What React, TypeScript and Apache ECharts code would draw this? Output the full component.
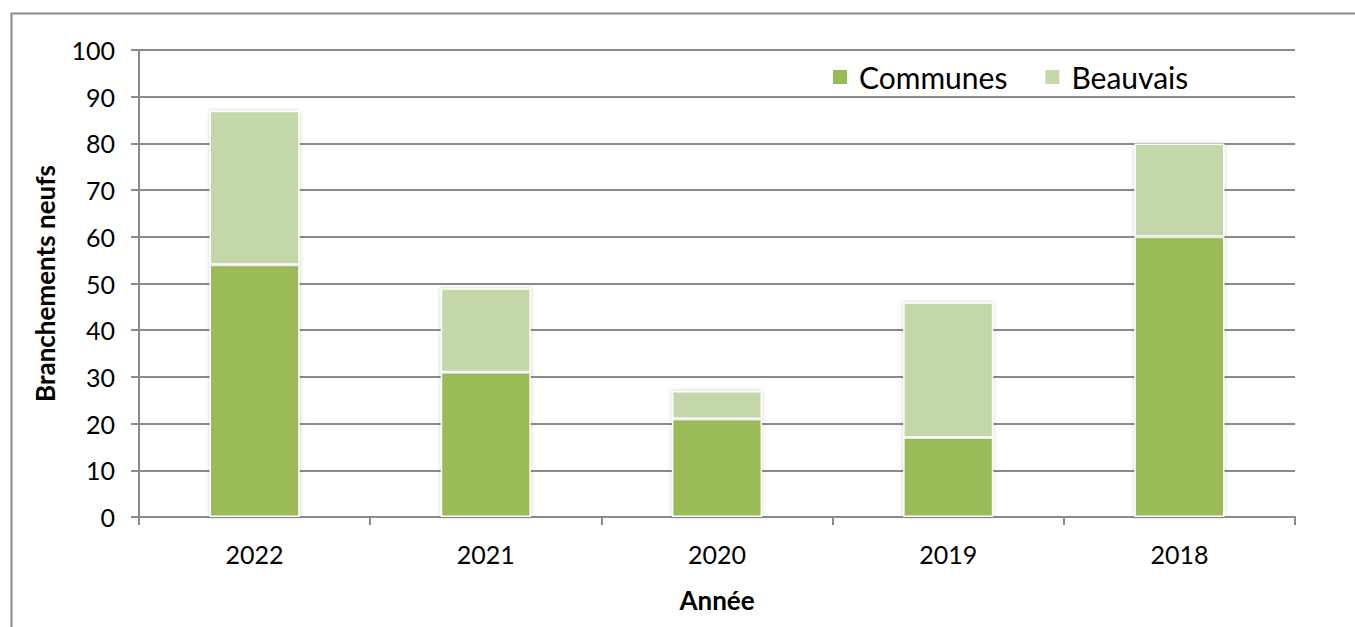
import React, { useEffect, useRef } from "react";
import * as echarts from "echarts";

const years = ["2022", "2021", "2020", "2019", "2018"];
const communes = [54, 31, 21, 17, 60];
const beauvais = [33, 18, 6, 29, 20];
const yTicks = { min: 0, max: 100, interval: 10 };

const FONT = "Lato, 'Open Sans', sans-serif";
const GRAY = "#8a8a8a";

export default function App() {
  const ref = useRef<HTMLDivElement>(null);
  useEffect(() => {
    if (!ref.current) return;
    const chart = echarts.init(ref.current, null, { renderer: "svg" });
    chart.setOption({
      animation: false,
      backgroundColor: "#ffffff",
      textStyle: { fontFamily: FONT },
      graphic: [
        {
          type: "rect",
          left: 9,
          top: 11,
          shape: { x: 0, y: 0, width: 1400, height: 700 },
          style: { fill: "none", stroke: GRAY, lineWidth: 2 },
          silent: true,
        },
      ],
      legend: {
        top: 57,
        left: 826,
        itemWidth: 16,
        itemHeight: 16,
        itemGap: 36,
        icon: "rect",
        textStyle: { fontFamily: FONT, fontSize: 30, color: "#000", padding: [0, 0, 0, 6] },
        data: ["Communes", "Beauvais"],
      },
      grid: { left: 139, right: 60, top: 50, bottom: 110 },
      xAxis: {
        type: "category",
        data: years,
        name: "Année",
        nameLocation: "middle",
        nameGap: 70,
        nameTextStyle: { fontFamily: FONT, fontSize: 26, fontWeight: "bold", color: "#000" },
        axisLine: { lineStyle: { color: GRAY, width: 2 } },
        axisTick: { show: true, length: 8, lineStyle: { color: GRAY, width: 2 } },
        axisLabel: { fontFamily: FONT, fontSize: 25, color: "#000", margin: 24 },
      },
      yAxis: {
        type: "value",
        min: yTicks.min,
        max: yTicks.max,
        interval: yTicks.interval,
        name: "Branchements neufs",
        nameLocation: "middle",
        nameGap: 81,
        nameTextStyle: { fontFamily: FONT, fontSize: 26, fontWeight: "bold", color: "#000" },
        axisLine: { show: true, lineStyle: { color: GRAY, width: 2 } },
        axisTick: { show: true, length: 8, lineStyle: { color: GRAY, width: 2 } },
        axisLabel: { fontFamily: FONT, fontSize: 25, color: "#000", margin: 24 },
        splitLine: { lineStyle: { color: GRAY, width: 2 } },
      },
      series: [
        {
          name: "Communes",
          type: "bar",
          stack: "total",
          data: communes,
          barWidth: "39%",
          itemStyle: {
            color: "#9BBB59",
            borderColor: "#ffffff",
            borderWidth: 1.5,
            shadowBlur: 4,
            shadowColor: "rgba(0,0,0,0.2)",
          },
        },
        {
          name: "Beauvais",
          type: "bar",
          stack: "total",
          data: beauvais,
          barWidth: "39%",
          itemStyle: {
            color: "#C4D7A9",
            borderColor: "#ffffff",
            borderWidth: 1.5,
            shadowBlur: 4,
            shadowColor: "rgba(0,0,0,0.2)",
          },
        },
      ],
    });
    return () => chart.dispose();
  }, []);
  return (
    <div
      ref={ref}
      style={{ position: "fixed", left: 0, top: 0, width: 1355, height: 627 }}
    />
  );
}
